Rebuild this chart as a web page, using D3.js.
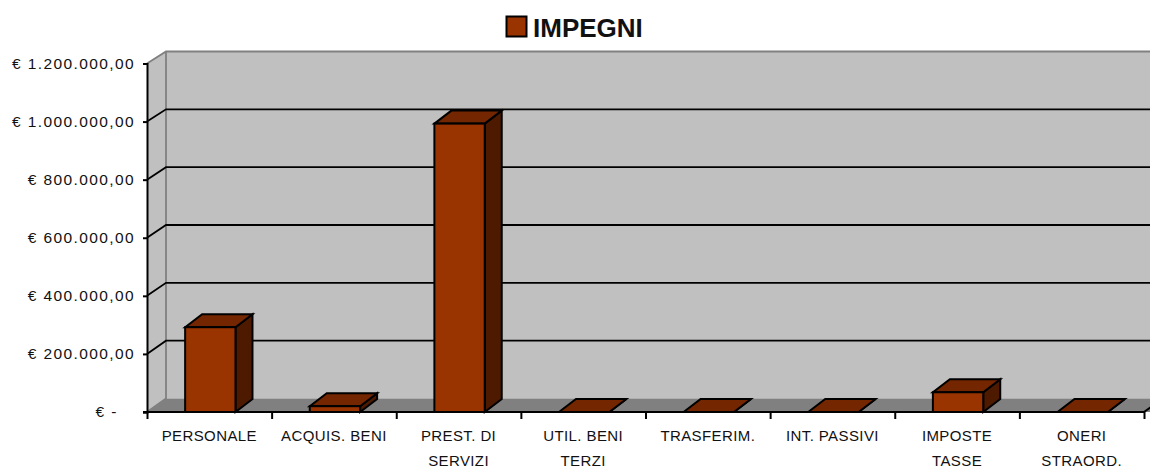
<!DOCTYPE html>
<html><head><meta charset="utf-8">
<script src="https://cdn.jsdelivr.net/npm/d3@7"></script>
<style>html,body{margin:0;padding:0;background:#fff}svg{display:block}
text{font-family:"Liberation Sans",Arial,sans-serif;fill:#111}</style></head>
<body><svg id="c" width="1150" height="468"></svg>
<script>
const seriesName = "IMPEGNI";
const categories = ["PERSONALE","ACQUIS. BENI","PREST. DI|SERVIZI","UTIL. BENI|TERZI","TRASFERIM.","INT. PASSIVI","IMPOSTE|TASSE","ONERI|STRAORD."];
const values = [292000,20000,993000,0,0,0,68000,0];
const yTicks = [0,200000,400000,600000,800000,1000000,1200000];
const yTickLabels = ["€ -\u00a0\u00a0\u00a0","€ 200.000,00","€ 400.000,00","€ 600.000,00","€ 800.000,00","€ 1.000.000,00","€ 1.200.000,00"];

const svg = d3.select("#c");
const x = d3.scaleBand().domain(categories).range([148,1145]).paddingInner(0.596).paddingOuter(0.298);
const y = d3.scaleLinear().domain([0,1200000]).range([412,63.5]);
const yBack = d3.scaleLinear().domain([0,1200000]).range([398.5,51.5]);
const x0 = 147, x1 = 1144, wallX = 166, barDx = 17, barDy = -13;
const poly = pts => pts.map(p=>p.join(",")).join(" ");
const yMax = 1200000;

// walls and floor
svg.append("polygon").attr("points",poly([[wallX,yBack(yMax)],[1150,yBack(yMax)],[1150,yBack(0)],[wallX,yBack(0)]])).attr("fill","#c0c0c0");
svg.append("polygon").attr("points",poly([[x0,y(yMax)],[wallX,yBack(yMax)],[wallX,yBack(0)],[x0,y(0)]])).attr("fill","#c0c0c0");
svg.append("polygon").attr("points",poly([[x0,y(0)],[wallX,yBack(0)],[1150,yBack(0)],[1150,y(0)]])).attr("fill","#808080");

// wall edges
svg.append("path").attr("d",`M${x0},${y(yMax)}L${wallX},${yBack(yMax)}H1150M${wallX},${yBack(yMax)}V${yBack(0)}L${x0},${y(0)}`)
  .attr("fill","none").attr("stroke","#808080").attr("stroke-width",1.8);

// gridlines
svg.append("g").selectAll("path").data(yTicks.filter(v=>v>0&&v<yMax)).join("path")
  .attr("d",v=>`M${x0},${y(v)}L${wallX},${yBack(v)}H1150`)
  .attr("fill","none").attr("stroke","#000").attr("stroke-width",1.8);

// axes
const yAxis = d3.axisLeft(y).tickValues(yTicks).tickSize(4).tickPadding(8).tickFormat((d,i)=>yTickLabels[i]);
const gy = svg.append("g").attr("transform",`translate(${x0},0)`).call(yAxis);
gy.selectAll("path,line").attr("stroke","#000").attr("stroke-width",2);
gy.selectAll("text").attr("font-size",15.5).attr("letter-spacing",1.4).attr("fill","#111").attr("font-family",'"Liberation Sans",Arial,sans-serif');

const xBound = d3.scaleLinear().domain([0,categories.length]).range([x0,x1]);
const gx = svg.append("g").attr("transform",`translate(0,${y(0)})`)
  .call(d3.axisBottom(xBound).tickValues(d3.range(categories.length+1)).tickSize(7).tickFormat(""));
gx.select("path").remove();
gx.selectAll("line").attr("stroke","#000").attr("stroke-width",2);
svg.append("line").attr("x1",x0-4).attr("x2",x1).attr("y1",y(0)).attr("y2",y(0)).attr("stroke","#000").attr("stroke-width",2);
svg.append("line").attr("x1",x1).attr("x2",x1+19).attr("y1",y(0)).attr("y2",yBack(0)).attr("stroke","#000").attr("stroke-width",2);

// category labels
const labels = svg.append("g").selectAll("text").data(categories).join("text")
  .attr("text-anchor","middle").attr("font-size",15).attr("letter-spacing",0.4);
labels.each(function(d,i){
  const t = d3.select(this);
  d.split("|").forEach((line,j)=>t.append("tspan").attr("x",xBound(i+0.5)).attr("y",441+j*25).text(line));
});

// bars
const bars = svg.append("g").selectAll("g").data(values).join("g")
  .attr("stroke","#000").attr("stroke-width",2).attr("stroke-linejoin","miter");
const L = i=>x(categories[i]), R = i=>x(categories[i])+x.bandwidth();
bars.append("polygon").attr("fill","#4d1a00")
  .attr("points",(v,i)=>poly([[R(i),y(v)],[R(i)+barDx,y(v)+barDy],[R(i)+barDx,y(0)+barDy],[R(i),y(0)]]));
bars.append("polygon").attr("fill","#732600")
  .attr("points",(v,i)=>poly([[L(i),y(v)],[L(i)+barDx,y(v)+barDy],[R(i)+barDx,y(v)+barDy],[R(i),y(v)]]));
bars.append("rect").attr("fill","#993300")
  .attr("x",(v,i)=>L(i)).attr("y",v=>y(v)).attr("width",x.bandwidth()).attr("height",v=>y(0)-y(v));

// legend
svg.append("rect").attr("x",506.5).attr("y",16.5).attr("width",20).attr("height",20).attr("fill","#993300").attr("stroke","#000").attr("stroke-width",2);
svg.append("text").attr("x",533).attr("y",37).attr("font-size",26).attr("font-weight","bold").text(seriesName);
</script></body></html>
